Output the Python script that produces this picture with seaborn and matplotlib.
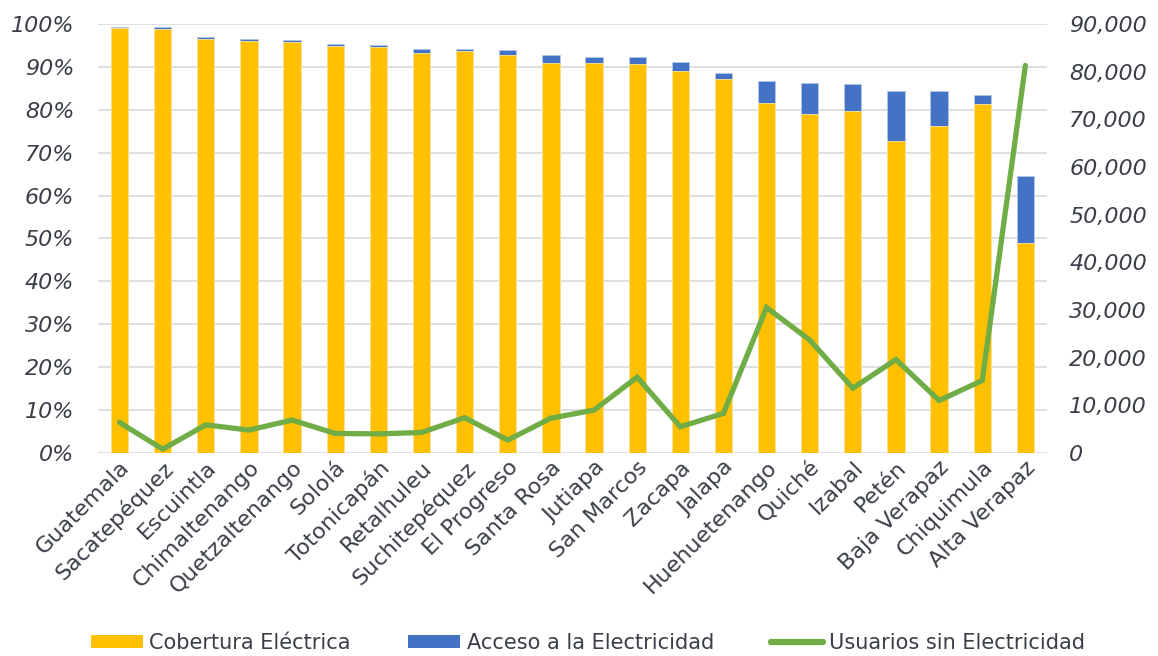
import matplotlib
matplotlib.use("Agg")
import matplotlib.pyplot as plt
import matplotlib.ticker as mticker
from matplotlib.lines import Line2D
from matplotlib.patches import Patch
import seaborn as sns
import pandas as pd

departamentos = ["Guatemala", "Sacatepéquez", "Escuintla", "Chimaltenango", "Quetzaltenango",
                 "Sololá", "Totonicapán", "Retalhuleu", "Suchitepéquez", "El Progreso",
                 "Santa Rosa", "Jutiapa", "San Marcos", "Zacapa", "Jalapa", "Huehuetenango",
                 "Quiché", "Izabal", "Petén", "Baja Verapaz", "Chiquimula", "Alta Verapaz"]
cobertura = [99.1, 98.8, 96.5, 96.0, 95.8, 94.9, 94.6, 93.2, 93.6, 92.7, 91.0,
             91.0, 90.6, 89.0, 87.1, 81.6, 79.1, 79.6, 72.7, 76.2, 81.4, 49.0]
acceso_total = [99.4, 99.3, 97.0, 96.4, 96.3, 95.3, 95.1, 94.2, 94.1, 93.9, 92.8,
                92.4, 92.3, 91.1, 88.6, 86.6, 86.2, 86.0, 84.3, 84.3, 83.4, 64.6]
usuarios_sin = [6400, 800, 5900, 4800, 6900, 4100, 4000, 4300, 7400, 2700, 7300,
                9000, 15900, 5500, 8300, 30500, 23700, 13600, 19600, 11000, 15200, 81300]

YELLOW = "#FFC000"
BLUE = "#4472C4"
GREEN = "#70AD47"
TEXT = "#3A3F47"
GRID = "#D9D9D9"

df = pd.DataFrame({"dep": departamentos, "cob": [c / 100 for c in cobertura],
                   "tot": [t / 100 for t in acceso_total], "usr": usuarios_sin})

sns.set_theme(style="white")
plt.rcParams["font.family"] = ["DejaVu Sans"]

fig = plt.figure(figsize=(11.58, 6.56), dpi=100)
ax = fig.add_axes([0.0846, 0.3095, 0.8195, 0.654])

sns.barplot(data=df, x="dep", y="tot", color=BLUE, width=0.4, ax=ax, saturation=1,
            edgecolor="#B4C7E7", linewidth=0.6, zorder=2)
sns.barplot(data=df, x="dep", y="cob", color=YELLOW, width=0.4, ax=ax, saturation=1,
            edgecolor="#FFE699", linewidth=0.6, zorder=3)

ax.set_ylim(0, 1.0)
ax.set_xlim(-0.5, len(departamentos) - 0.5)
ax.yaxis.set_major_locator(mticker.MultipleLocator(0.1))
ax.yaxis.set_major_formatter(mticker.FuncFormatter(lambda v, p: f"{v*100:.0f}%"))
ax.grid(axis="y", color=GRID, linewidth=1.2, zorder=0)
ax.set_axisbelow(True)
for s in ax.spines.values():
    s.set_visible(False)
ax.set_xlabel("")
ax.set_ylabel("")
ax.tick_params(axis="y", length=0, pad=17, labelsize=16, labelcolor=TEXT)
for t in ax.get_yticklabels():
    t.set_fontstyle("italic")
ax.tick_params(axis="x", length=0, pad=3, labelsize=16, labelcolor=TEXT)
for t in ax.get_xticklabels():
    t.set_rotation(45)
    t.set_ha("right")
    t.set_rotation_mode("anchor")

ax2 = ax.twinx()
sns.lineplot(data=df, x="dep", y="usr", color=GREEN, linewidth=3.8, ax=ax2, zorder=4,
             solid_joinstyle="miter")
ax2.set_ylim(0, 90000)
ax2.set_xlim(-0.5, len(departamentos) - 0.5)
ax2.yaxis.set_major_locator(mticker.MultipleLocator(10000))
ax2.yaxis.set_major_formatter(mticker.FuncFormatter(lambda v, p: f"{v:,.0f}"))
for s in ax2.spines.values():
    s.set_visible(False)
ax2.set_ylabel("")
ax2.set_xlabel("")
ax2.grid(False)
ax2.tick_params(axis="y", length=0, pad=16, labelsize=16, labelcolor=TEXT)
for t in ax2.get_yticklabels():
    t.set_fontstyle("italic")

handles = [Patch(facecolor=YELLOW, edgecolor="none"),
           Patch(facecolor=BLUE, edgecolor="none"),
           Line2D([0], [0], color=GREEN, linewidth=4.5, solid_capstyle="round")]
labels = ["Cobertura Eléctrica", "Acceso a la Electricidad", "Usuarios sin Electricidad"]
fig.legend(handles, labels, loc="center", bbox_to_anchor=(0.508, 0.02), ncol=3, frameon=False,
           fontsize=15, labelcolor=TEXT, handlelength=2.5, handleheight=0.55,
           handletextpad=0.3, columnspacing=2.75)

fig.savefig("out.png", dpi=100)
